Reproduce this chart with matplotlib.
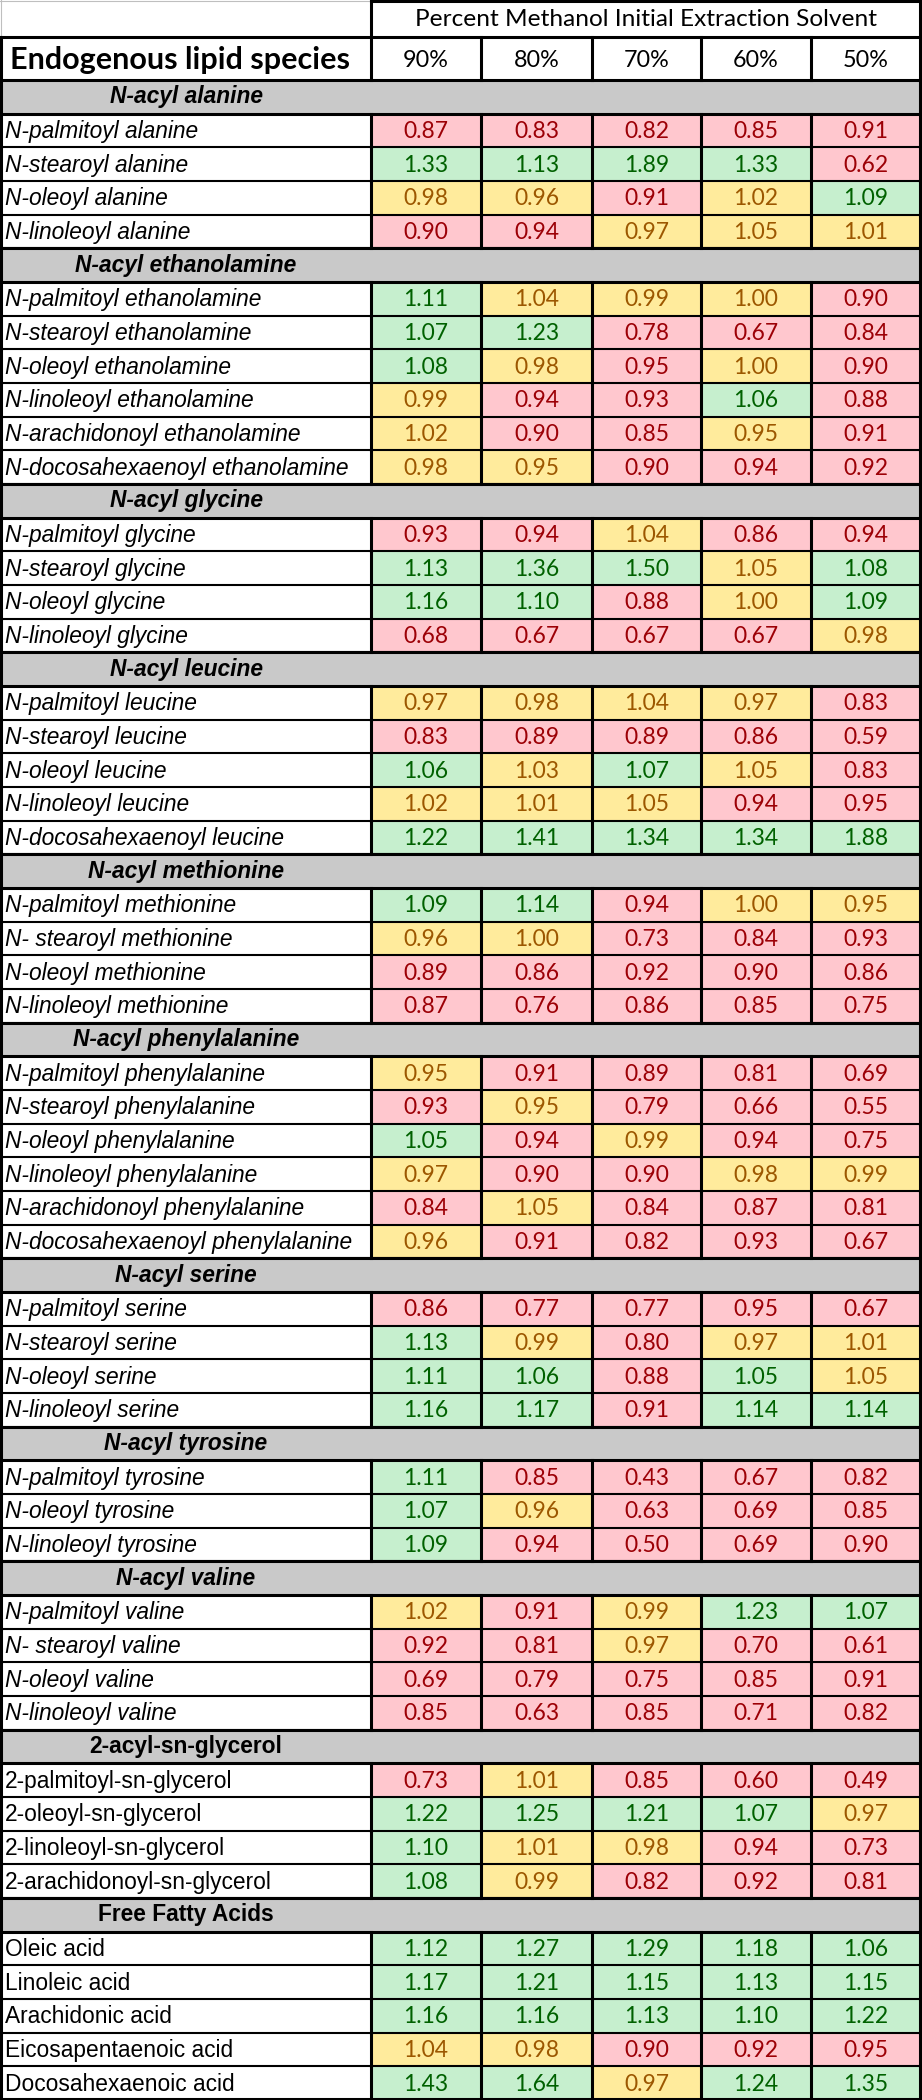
import matplotlib
matplotlib.use("Agg")
import matplotlib.pyplot as plt
from matplotlib.patches import Rectangle

# ---------------- data ----------------
columns = ["90%", "80%", "70%", "60%", "50%"]
header_top = "Percent Methanol Initial Extraction Solvent"
header_left = "Endogenous lipid species"

group_names = ["N-acyl alanine", "N-acyl ethanolamine", "N-acyl glycine", "N-acyl leucine",
               "N-acyl methionine", "N-acyl phenylalanine", "N-acyl serine", "N-acyl tyrosine",
               "N-acyl valine", "2-acyl-sn-glycerol", "Free Fatty Acids"]
group_sizes = [4, 6, 4, 5, 4, 6, 4, 3, 4, 4, 5]
group_italic = [True, True, True, True, True, True, True, True, True, False, False]

row_labels = [
    "N-palmitoyl alanine", "N-stearoyl alanine", "N-oleoyl alanine", "N-linoleoyl alanine",
    "N-palmitoyl ethanolamine", "N-stearoyl ethanolamine", "N-oleoyl ethanolamine",
    "N-linoleoyl ethanolamine", "N-arachidonoyl ethanolamine", "N-docosahexaenoyl ethanolamine",
    "N-palmitoyl glycine", "N-stearoyl glycine", "N-oleoyl glycine", "N-linoleoyl glycine",
    "N-palmitoyl leucine", "N-stearoyl leucine", "N-oleoyl leucine", "N-linoleoyl leucine",
    "N-docosahexaenoyl leucine",
    "N-palmitoyl methionine", "N- stearoyl methionine", "N-oleoyl methionine", "N-linoleoyl methionine",
    "N-palmitoyl phenylalanine", "N-stearoyl phenylalanine", "N-oleoyl phenylalanine",
    "N-linoleoyl phenylalanine", "N-arachidonoyl phenylalanine", "N-docosahexaenoyl phenylalanine",
    "N-palmitoyl serine", "N-stearoyl serine", "N-oleoyl serine", "N-linoleoyl serine",
    "N-palmitoyl tyrosine", "N-oleoyl tyrosine", "N-linoleoyl tyrosine",
    "N-palmitoyl valine", "N- stearoyl valine", "N-oleoyl valine", "N-linoleoyl valine",
    "2-palmitoyl-sn-glycerol", "2-oleoyl-sn-glycerol", "2-linoleoyl-sn-glycerol",
    "2-arachidonoyl-sn-glycerol",
    "Oleic acid", "Linoleic acid", "Arachidonic acid", "Eicosapentaenoic acid", "Docosahexaenoic acid",
]

v90 = [0.87, 1.33, 0.98, 0.90,
       1.11, 1.07, 1.08, 0.99, 1.02, 0.98,
       0.93, 1.13, 1.16, 0.68,
       0.97, 0.83, 1.06, 1.02, 1.22,
       1.09, 0.96, 0.89, 0.87,
       0.95, 0.93, 1.05, 0.97, 0.84, 0.96,
       0.86, 1.13, 1.11, 1.16,
       1.11, 1.07, 1.09,
       1.02, 0.92, 0.69, 0.85,
       0.73, 1.22, 1.10, 1.08,
       1.12, 1.17, 1.16, 1.04, 1.43]
v80 = [0.83, 1.13, 0.96, 0.94,
       1.04, 1.23, 0.98, 0.94, 0.90, 0.95,
       0.94, 1.36, 1.10, 0.67,
       0.98, 0.89, 1.03, 1.01, 1.41,
       1.14, 1.00, 0.86, 0.76,
       0.91, 0.95, 0.94, 0.90, 1.05, 0.91,
       0.77, 0.99, 1.06, 1.17,
       0.85, 0.96, 0.94,
       0.91, 0.81, 0.79, 0.63,
       1.01, 1.25, 1.01, 0.99,
       1.27, 1.21, 1.16, 0.98, 1.64]
v70 = [0.82, 1.89, 0.91, 0.97,
       0.99, 0.78, 0.95, 0.93, 0.85, 0.90,
       1.04, 1.50, 0.88, 0.67,
       1.04, 0.89, 1.07, 1.05, 1.34,
       0.94, 0.73, 0.92, 0.86,
       0.89, 0.79, 0.99, 0.90, 0.84, 0.82,
       0.77, 0.80, 0.88, 0.91,
       0.43, 0.63, 0.50,
       0.99, 0.97, 0.75, 0.85,
       0.85, 1.21, 0.98, 0.82,
       1.29, 1.15, 1.13, 0.90, 0.97]
v60 = [0.85, 1.33, 1.02, 1.05,
       1.00, 0.67, 1.00, 1.06, 0.95, 0.94,
       0.86, 1.05, 1.00, 0.67,
       0.97, 0.86, 1.05, 0.94, 1.34,
       1.00, 0.84, 0.90, 0.85,
       0.81, 0.66, 0.94, 0.98, 0.87, 0.93,
       0.95, 0.97, 1.05, 1.14,
       0.67, 0.69, 0.69,
       1.23, 0.70, 0.85, 0.71,
       0.60, 1.07, 0.94, 0.92,
       1.18, 1.13, 1.10, 0.92, 1.24]
v50 = [0.91, 0.62, 1.09, 1.01,
       0.90, 0.84, 0.90, 0.88, 0.91, 0.92,
       0.94, 1.08, 1.09, 0.98,
       0.83, 0.59, 0.83, 0.95, 1.88,
       0.95, 0.93, 0.86, 0.75,
       0.69, 0.55, 0.75, 0.99, 0.81, 0.67,
       0.67, 1.01, 1.05, 1.14,
       0.82, 0.85, 0.90,
       1.07, 0.61, 0.91, 0.82,
       0.49, 0.97, 0.73, 0.81,
       1.06, 1.15, 1.22, 0.95, 1.35]

# colour class per cell (R = decrease, Y = unchanged, G = increase), as shown in the table
cell_class = [
    "RRRRR", "GGGGR", "YYRYG", "RRYYY",
    "GYYYR", "GGRRR", "GYRYR", "YRRGR", "YRRYR", "YYRRR",
    "RRYRR", "GGGYG", "GGRYG", "RRRRY",
    "YYYYR", "RRRRR", "GYGYR", "YYYRR", "GGGGG",
    "GGRYY", "YYRRR", "RRRRR", "RRRRR",
    "YRRRR", "RYRRR", "GRYRR", "YRRYY", "RYRRR", "YRRRR",
    "RRRRR", "GYRYY", "GGRGY", "GGRGG",
    "GRRRR", "GYRRR", "GRRRR",
    "YRYGG", "RRYRR", "RRRRR", "RRRRR",
    "RYRRR", "GGGGY", "GYYRR", "GYRRR",
    "GGGGG", "GGGGG", "GGGGG", "YYRRR", "GGYGG",
]

# ---------------- styling ----------------
fill = {"R": "#FFC7CE", "Y": "#FFEB9C", "G": "#C6EFCE"}
txt = {"R": "#9C0006", "Y": "#9C5700", "G": "#006100"}
group_fill = "#C9C9C9"

W, H = 922, 2100
x_edges = [1, 371, 481, 592, 701, 811, 920]
y_top1, y_top2, y_body = 0, 37, 80
row_h = (H - y_body) / (len(row_labels) + len(group_names))

fig = plt.figure(figsize=(W / 100, H / 100), dpi=100)
ax = fig.add_axes([0, 0, 1, 1])
ax.set_xlim(0, W)
ax.set_ylim(H, 0)
ax.axis("off")

lw_thick = 2.2
lw_thin = 1.5
num_font = "Lato"
lab_font = "Liberation Sans"
lab_size = 16.4
num_size = 16.5

def hline(y, x0, x1, lw, color="black"):
    ax.plot([x0, x1], [y, y], color=color, lw=lw, solid_capstyle="projecting", zorder=5)

def vline(x, y0, y1, lw, color="black"):
    ax.plot([x, x], [y0, y1], color=color, lw=lw, solid_capstyle="projecting", zorder=5)

# ---- header row 1
ax.add_patch(Rectangle((0, y_top1), W, y_top2 - y_top1, facecolor="white", edgecolor="none"))
hline(0.5, 0, x_edges[1], 0.8, "#BFBFBF")
vline(0.5, 0, y_top2, 0.8, "#BFBFBF")
hline(1, x_edges[1], x_edges[-1], lw_thick)
vline(x_edges[1], y_top1, y_top2, lw_thick)
vline(x_edges[-1], y_top1, y_top2, lw_thick)
ax.text((x_edges[1] + x_edges[-1]) / 2, (y_top1 + y_top2) / 2 + 1, header_top,
        ha="center", va="center", fontsize=17.6, family=num_font, color="black")

# ---- header row 2
hline(y_top2, 0, x_edges[-1], lw_thick)
for xe in x_edges:
    vline(xe, y_top2, y_body, lw_thick)
ax.text(180, (y_top2 + y_body) / 2 + 1, header_left, ha="center", va="center",
        fontsize=22, family=num_font, fontweight="bold", color="black")
for j, c in enumerate(columns):
    ax.text((x_edges[j + 1] + x_edges[j + 2]) / 2, (y_top2 + y_body) / 2 + 2, c,
            ha="center", va="center", fontsize=16.8, family=num_font, color="black")

# ---- body
values = list(zip(v90, v80, v70, v60, v50))
r = 0      # visual row index
k = 0      # data row index
for g, (gname, gsize, gital) in enumerate(zip(group_names, group_sizes, group_italic)):
    y0 = y_body + r * row_h
    y1 = y0 + row_h
    ax.add_patch(Rectangle((0, y0), x_edges[-1], row_h, facecolor=group_fill, edgecolor="none", zorder=1))
    hline(y0, 0, x_edges[-1], lw_thick)
    hline(y1, 0, x_edges[-1], lw_thick)
    vline(x_edges[0], y0, y1, lw_thick)
    vline(x_edges[-1], y0, y1, lw_thick)
    ax.text((x_edges[0] + x_edges[1]) / 2, (y0 + y1) / 2, gname, ha="center", va="center",
            fontsize=lab_size, family=lab_font, fontweight="bold",
            fontstyle="italic" if gital else "normal", color="black", zorder=6)
    r += 1
    for i in range(gsize):
        y0 = y_body + r * row_h
        y1 = y0 + row_h
        ax.add_patch(Rectangle((0, y0), x_edges[1], row_h, facecolor="white", edgecolor="none", zorder=1))
        ax.text(5, (y0 + y1) / 2 + 1, row_labels[k], ha="left", va="center",
                fontsize=lab_size, family=lab_font, fontstyle="italic" if gital else "normal",
                color="black", zorder=6)
        for j in range(5):
            cl = cell_class[k][j]
            xa, xb = x_edges[j + 1], x_edges[j + 2]
            ax.add_patch(Rectangle((xa, y0), xb - xa, row_h, facecolor=fill[cl],
                                   edgecolor="none", zorder=1))
            ax.text((xa + xb) / 2, (y0 + y1) / 2 + 1, f"{values[k][j]:.2f}", ha="center",
                    va="center", fontsize=num_size, family=num_font, color=txt[cl], zorder=6)
        hline(y1, 0, x_edges[-1], lw_thin)
        for xe in x_edges:
            vline(xe, y0, y1, lw_thick)
        r += 1
        k += 1

hline(H - 1.5, 0, x_edges[-1], lw_thick)

fig.savefig("out.png", dpi=100)
